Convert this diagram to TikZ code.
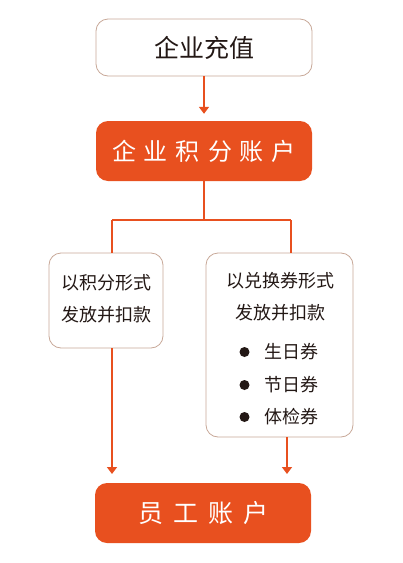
\documentclass[tikz,border=0pt]{standalone}
\usepackage{fontspec}
\setmainfont{Noto Sans CJK SC}
\usetikzlibrary{arrows.meta}
\definecolor{orng}{HTML}{E8501F}
\definecolor{bord}{HTML}{C8A898}
\definecolor{txt}{HTML}{231815}
\begin{document}
\begin{tikzpicture}[x=1pt,y=-1pt,
  whitebox/.style={draw=bord,line width=0.8pt,rounded corners=12pt,fill=white,text=txt,inner sep=0pt},
  orangebox/.style={fill=orng,rounded corners=12pt,text=white,inner sep=0pt},
  conn/.style={draw=orng,line width=2pt},
  arr/.style={conn,-{Triangle[length=7pt,width=10pt]}}]
\useasboundingbox (0,0) rectangle (403,563);
\node[whitebox,minimum width=216pt,minimum height=57pt,font=\fontsize{25}{30}\selectfont] (top) at (204,47.5) {企业充值};
\node[orangebox,minimum width=216pt,minimum height=60pt,font=\fontsize{24}{30}\selectfont] (acc) at (204,151) {企\hspace{8pt}业\hspace{8pt}积\hspace{8pt}分\hspace{8pt}账\hspace{8pt}户};
\node[whitebox,minimum width=114pt,minimum height=95pt] (lbox) at (106,300.5) {};
\node[font=\fontsize{18}{32}\selectfont,text=txt,align=center] (ltxt) at (106,299) {以积分形式\\发放并扣款};
\node[whitebox,minimum width=147pt,minimum height=184pt] (rbox) at (279.5,345) {};
\node[font=\fontsize{18}{32}\selectfont,text=txt] (r1) at (280,281) {以兑换券形式};
\node[font=\fontsize{18}{32}\selectfont,text=txt] (r2) at (280,313) {发放并扣款};
\node[font=\fontsize{18}{32}\selectfont,text=txt,anchor=west] (b1) at (261,352) {生日券};
\node[font=\fontsize{18}{32}\selectfont,text=txt,anchor=west] (b2) at (261,385) {节日券};
\node[font=\fontsize{18}{32}\selectfont,text=txt,anchor=west] (b3) at (261,417) {体检券};
\fill[txt] (244.5,352) circle (5pt) (244.5,385) circle (5pt) (244.5,417) circle (5pt);
\node[orangebox,minimum width=216pt,minimum height=60pt,font=\fontsize{25}{30}\selectfont] (emp) at (203,513) {员\hspace{10pt}工\hspace{10pt}账\hspace{10pt}户};
\coordinate (j) at (204,220);
\coordinate (jl) at (112,220);
\coordinate (jr) at (291,220);
\coordinate (le) at (112,474);
\coordinate (rs) at (287,437);
\coordinate (re) at (287,474);
\draw[arr,shorten >=7pt] (top.south) -- (acc.north);
\draw[conn] (acc.south) -- (j);
\draw[conn] (jl) -- (jr);
\draw[conn] (jr) -- (jr |- rbox.north);
\draw[conn] (jl) -- (jl |- lbox.north);
\draw[arr] (jl |- lbox.south) -- (le);
\draw[arr] (rs) -- (re);
\end{tikzpicture}
\end{document}
